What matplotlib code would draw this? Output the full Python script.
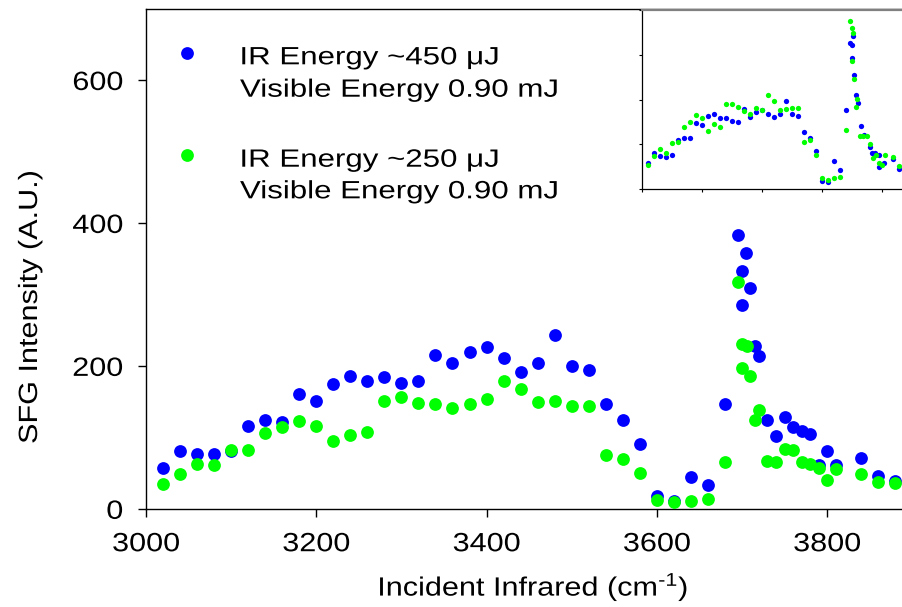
import matplotlib
matplotlib.use("Agg")
import matplotlib.pyplot as plt
from matplotlib.lines import Line2D
from matplotlib.patheffects import AbstractPathEffect
from matplotlib.transforms import Affine2D

plt.rcParams['font.family'] = ['Liberation Sans', 'DejaVu Sans']
plt.rcParams['mathtext.fontset'] = 'custom'
plt.rcParams['mathtext.rm'] = 'Liberation Sans'
plt.rcParams['mathtext.it'] = 'Liberation Sans:italic'
plt.rcParams['mathtext.bf'] = 'Liberation Sans:bold'

# ---- main scan: IR ~450 uJ, visible 0.90 mJ (blue) ----
wn_450 = [3020, 3040, 3060, 3080, 3100, 3120, 3140, 3160, 3180, 3200,
          3220, 3240, 3260, 3280, 3300, 3320, 3340, 3360, 3380, 3400,
          3420, 3440, 3460, 3480, 3500, 3520, 3540, 3560, 3580, 3600,
          3620, 3640, 3660, 3680, 3695, 3700, 3700, 3705, 3710, 3715,
          3720, 3730, 3740, 3750, 3760, 3770, 3780, 3790, 3800, 3810,
          3840, 3860, 3880]
sfg_450 = [58, 82, 78, 78, 82, 116, 125, 122, 161, 151,
           176, 187, 180, 185, 177, 179, 216, 205, 220, 227,
           211, 192, 205, 244, 201, 195, 147, 125, 91, 18,
           11, 45, 34, 147, 384, 334, 286, 359, 309, 229,
           214, 125, 103, 129, 115, 110, 106, 62, 82, 62,
           72, 46, 40]

# ---- main scan: IR ~250 uJ, visible 0.90 mJ (green) ----
wn_250 = [3020, 3040, 3060, 3080, 3100, 3120, 3140, 3160, 3180, 3200,
          3220, 3240, 3260, 3280, 3300, 3320, 3340, 3360, 3380, 3400,
          3420, 3440, 3460, 3480, 3500, 3520, 3540, 3560, 3580, 3600,
          3620, 3640, 3660, 3680, 3695, 3700, 3700, 3706, 3710, 3715,
          3720, 3730, 3740, 3750, 3760, 3770, 3780, 3790, 3800, 3810,
          3840, 3860, 3880]
sfg_250 = [36, 50, 63, 62, 83, 83, 107, 115, 123, 117,
           95, 104, 108, 152, 157, 149, 148, 142, 147, 155,
           179, 168, 150, 152, 144, 145, 76, 71, 51, 13,
           10, 12, 14, 66, 318, 231, 198, 228, 186, 125,
           139, 68, 66, 85, 83, 66, 63, 58, 41, 57,
           49, 38, 37]

# ---- inset scans (arbitrary units) ----
inset_wn_450 = [3020, 3040, 3060, 3080, 3100, 3120, 3140, 3160, 3180, 3200,
                3220, 3240, 3260, 3280, 3300, 3320, 3340, 3360, 3380, 3400,
                3420, 3440, 3460, 3480, 3500, 3520, 3540, 3560, 3580, 3600,
                3620, 3640, 3660, 3680, 3694, 3700, 3700, 3705, 3709, 3714,
                3720, 3730, 3741, 3761, 3769, 3779, 3790, 3791, 3809, 3839,
                3859]
inset_sfg_450 = [58, 82, 75, 71, 76, 109, 114, 115, 148, 143,
                 163, 168, 159, 159, 153, 150, 179, 161, 172, 176,
                 169, 161, 169, 196, 169, 163, 127, 114, 86, 19,
                 17, 63, 42, 176, 327, 322, 292, 341, 254, 210,
                 193, 142, 122, 94, 82, 82, 49, 76, 58, 67,
                 46]

inset_wn_250 = [3020, 3040, 3060, 3080, 3100, 3120, 3140, 3160, 3180, 3200,
                3220, 3240, 3260, 3280, 3300, 3320, 3340, 3360, 3380, 3400,
                3420, 3440, 3460, 3480, 3500, 3520, 3540, 3560, 3580, 3600,
                3620, 3640, 3660, 3680, 3694, 3700, 3705, 3700, 3709, 3719,
                3714, 3728, 3738, 3750, 3760, 3770, 3780, 3790, 3801, 3810,
                3839, 3859]
inset_sfg_250 = [55, 74, 89, 82, 103, 106, 140, 150, 165, 160,
                 129, 145, 139, 190, 190, 184, 175, 169, 181, 176,
                 210, 197, 178, 179, 182, 182, 106, 109, 77, 26,
                 21, 26, 28, 132, 376, 360, 348, 287, 247, 202,
                 183, 120, 119, 118, 100, 70, 76, 59, 54, 76,
                 71, 53]

x_ticks = [3000, 3200, 3400, 3600, 3800]
y_ticks = [0, 200, 400, 600]

series_labels = [("IR Energy ~450 \u03bcJ", "Visible Energy 0.90 mJ"),
                 ("IR Energy ~250 \u03bcJ", "Visible Energy 0.90 mJ")]
BLUE = "#0000ff"
GREEN = "#00ff00"


class Widen(AbstractPathEffect):
    """Draw text glyphs horizontally widened along the text direction."""

    def __init__(self, factor, anchor="center"):
        super().__init__()
        self.factor = factor
        self.anchor = anchor

    def draw_path(self, renderer, gc, tpath, affine, rgbFace=None):
        ext = tpath.get_extents()
        if self.anchor == "left":
            x0 = ext.x0
        elif self.anchor == "right":
            x0 = ext.x1
        else:
            x0 = 0.5 * (ext.x0 + ext.x1)
        widen = Affine2D().translate(-x0, 0).scale(self.factor, 1.0).translate(x0, 0)
        renderer.draw_path(gc, tpath, widen + affine, rgbFace)


W, H = 902, 607
fig = plt.figure(figsize=(W / 100, H / 100), dpi=100)

# main axes
ax = fig.add_axes([146 / W, (H - 509.3) / H, (W - 146) / W, 500.3 / H])
ax.plot(wn_450, sfg_450, linestyle="none", marker="o", ms=9.2,
        mfc=BLUE, mec=BLUE, mew=0, zorder=3)
ax.plot(wn_250, sfg_250, linestyle="none", marker="o", ms=9.2,
        mfc=GREEN, mec=GREEN, mew=0, zorder=4)
ax.set_xlim(3000, 3888)
ax.set_ylim(0, 700)
ax.set_xticks(x_ticks)
ax.set_yticks(y_ticks)
ax.tick_params(direction="out", length=5.5, width=1.0, labelsize=19, pad=11,
               color="black")
for side in ("left", "bottom", "top"):
    ax.spines[side].set_linewidth(1.0)
    ax.spines[side].set_color("black")
ax.spines["right"].set_visible(False)

for lbl in ax.get_xticklabels():
    lbl.set_path_effects([Widen(1.16, "center")])
for lbl in ax.get_yticklabels():
    lbl.set_path_effects([Widen(1.16, "right")])

ax.set_xlabel(r"Incident Infrared (cm$^{\text{-}1}$)", fontsize=19)
ax.xaxis.label.set_path_effects([Widen(1.16, "center")])
ax.xaxis.set_label_coords((533 - 146) / (W - 146), (509.3 - 571) / 500.3)
ax.set_ylabel("SFG Intensity (A.U.)", fontsize=19)
ax.yaxis.label.set_path_effects([Widen(1.16, "center")])
ax.yaxis.set_label_coords((42 - 146) / (W - 146), (509.3 - 307) / 500.3)

# legend: dot beside the first line of each two-line entry
legend_rows = [(53, 64.3, 96.7), (155, 166.7, 198.3)]
for (dot_y, base1, base2), (line1, line2), col in zip(legend_rows, series_labels,
                                                      [BLUE, GREEN]):
    fig.add_artist(Line2D([187 / W], [1 - dot_y / H], transform=fig.transFigure,
                          linestyle="none", marker="o", ms=9.2, mfc=col,
                          mec=col, mew=0))
    for txt, base in ((line1, base1), (line2, base2)):
        t = fig.text(240 / W, 1 - base / H, txt, fontsize=18, ha="left",
                     va="baseline", color="black")
        t.set_path_effects([Widen(1.25, "left")])

# inset
axi = fig.add_axes([641.7 / W, (H - 189.3) / H, (W - 641.7) / W, 179.3 / H])
axi.set_facecolor("white")
axi.plot(inset_wn_450, inset_sfg_450, linestyle="none", marker="o", ms=3.8,
         mfc=BLUE, mec=BLUE, mew=0, zorder=3)
axi.plot(inset_wn_250, inset_sfg_250, linestyle="none", marker="o", ms=3.8,
         mfc=GREEN, mec=GREEN, mew=0, zorder=4)
axi.set_xlim(3000, 3868)
axi.set_ylim(0, 400)
axi.set_xticks(x_ticks)
axi.set_yticks([0, 100, 200, 300, 400])
axi.tick_params(direction="out", length=2.5, width=0.8, labelbottom=False,
                labelleft=False)
axi.spines["left"].set_linewidth(0.9)
axi.spines["bottom"].set_linewidth(0.9)
axi.spines["top"].set_color("#808080")
axi.spines["top"].set_linewidth(1.6)
axi.spines["right"].set_visible(False)

fig.savefig("out.png", dpi=100)
